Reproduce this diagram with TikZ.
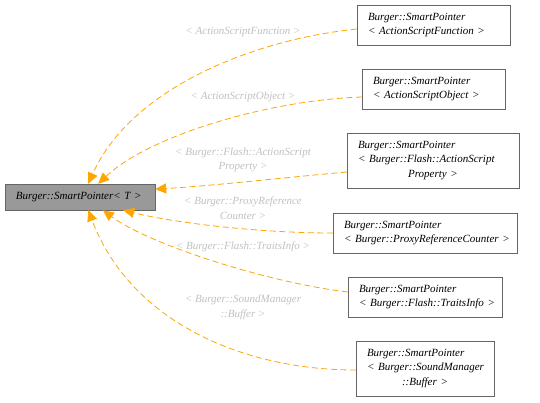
\documentclass[tikz,border=0pt]{standalone}
\usepackage{fontspec}
\setmainfont{Liberation Serif}
\usepackage{tikz}
\usetikzlibrary{arrows.meta}

\definecolor{edgeorange}{HTML}{FFA500}
\definecolor{boxgray}{HTML}{666666}
\definecolor{basegray}{HTML}{999999}
\definecolor{lblgray}{HTML}{C0C0C0}

\tikzset{
    box/.style={draw=boxgray, fill=white, align=left, inner xsep=11pt, inner ysep=0pt,
        font=\itshape\fontsize{11}{14.5}\selectfont},
    lbl/.style={text=lblgray, align=center, inner sep=0pt,
        font=\itshape\fontsize{11}{14.5}\selectfont},
    edge/.style={edgeorange, line width=0.8pt, dash pattern=on 6pt off 3.5pt,
        -{Triangle[length=11pt,width=10pt]}}
}

\begin{document}
\begin{tikzpicture}[x=1pt,y=-1pt]
        \useasboundingbox (0,0) rectangle (540,402);

        % 基类
        \node[box, fill=basegray, text width=128pt, minimum height=26pt] (base) at (80,197)
            {Burger::SmartPointer<~T~>};

        % 派生类
        \node[box, text width=131pt, minimum height=40pt] (c1) at (433.5,25)
            {Burger::SmartPointer\\<~ActionScriptFunction~>};
        \node[box, text width=121pt, minimum height=40pt] (c2) at (433.5,89)
            {Burger::SmartPointer\\<~ActionScriptObject~>};
        \node[box, text width=150pt, minimum height=55pt] (c3) at (433,160.5)
            {Burger::SmartPointer\\<~Burger::Flash::ActionScript\\\makebox[\linewidth]{Property~>}};
        \node[box, text width=162pt, minimum height=40pt] (c4) at (425,233)
            {Burger::SmartPointer\\<~Burger::ProxyReferenceCounter~>};
        \node[box, text width=132pt, minimum height=40pt] (c5) at (425,297)
            {Burger::SmartPointer\\<~Burger::Flash::TraitsInfo~>};
        \node[box, text width=116pt, minimum height=55pt] (c6) at (425,368.5)
            {Burger::SmartPointer\\<~Burger::SoundManager\\\makebox[\linewidth]{::Buffer~>}};

        % 模板参数标签
        \node[lbl] (l1) at (243,32) {< ActionScriptFunction >};
        \node[lbl] (l2) at (243,97) {< ActionScriptObject >};
        \node[lbl] (l3) at (243,160) {< Burger::Flash::ActionScript\\Property >};
        \node[lbl] (l4) at (243,208) {< Burger::ProxyReference\\Counter >};
        \node[lbl] (l5) at (243,247) {< Burger::Flash::TraitsInfo >};
        \node[lbl] (l6) at (243,307.5) {< Burger::SoundManager\\::Buffer >};

        % 继承箭头
        \draw[edge] ([yshift=-4pt]c1.west) .. controls (250,40) and (130,90) .. (base.58);
        \draw[edge] ([yshift=-8pt]c2.west) .. controls (270,100) and (150,135) .. (base.36);
        \draw[edge] ([yshift=-11.5pt]c3.west) .. controls (280,178) and (210,186) .. (base.6);
        \draw[edge] (c4.west) .. controls (260,233) and (175,223) .. (base.-17);
        \draw[edge] ([yshift=5pt]c5.west) .. controls (270,283) and (150,245) .. (base.-30);
        \draw[edge] ([yshift=-1.5pt]c6.west) .. controls (240,370) and (130,320) .. (base.-58);

    \end{tikzpicture}
\end{document}
